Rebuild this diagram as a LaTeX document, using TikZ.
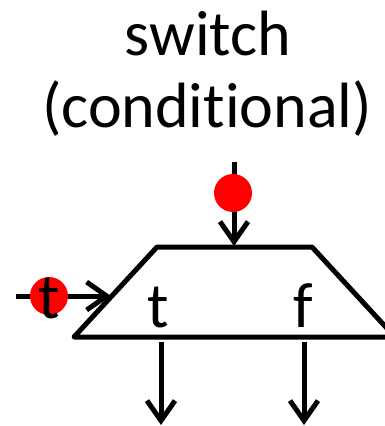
\documentclass[tikz,border=0pt]{standalone}
\usepackage{fontspec}
\setmainfont{Carlito}[Ligatures=NoCommon]
\usetikzlibrary{arrows.meta}
\tikzset{
  wire/.style={line width=5pt,-{Straight Barb[length=20pt,width=28pt,line width=5pt]}},
  token/.style={circle,fill=red,inner sep=0pt,minimum size=38pt},
  lbl/.style={font=\fontsize{64}{64}\selectfont,inner sep=0pt,anchor=base},
}
\begin{document}
\begin{tikzpicture}[x=1pt,y=-1pt]
\useasboundingbox (0,0) rectangle (385,426);
\clip (0,0) rectangle (385,426);
% title
\node[lbl] (head) at (208,55) {switch};
\node[lbl] (sub) at (207,127) {(conditional)};
% switch body
\coordinate (bl) at (74,337); \coordinate (tl) at (157,247);
\coordinate (tr) at (312,247); \coordinate (br) at (395,337);
\draw[line width=5pt,line join=round] (bl)--(tl)--(tr)--(br)--cycle;
\node[lbl] (tout) at (158,327) {t};
\node[lbl] (fout) at (303,327) {f};
% wires
\coordinate (ctl) at (234,162); \coordinate (ctlend) at (234,246);
\coordinate (din) at (16,296); \coordinate (dinend) at (111,296);
\coordinate (tend) at (161,425); \coordinate (fend) at (304,425);
\draw[wire] (ctl)--(ctlend);
\draw[wire] (din)--(dinend);
\draw[wire] (161,342)--(tend);
\draw[wire] (304,342)--(fend);
% tokens
\node[token] (ctok) at (233,193) {};
\node[token] (dtok) at (49,296) {};
\node[lbl] at (49,318) {t};
\end{tikzpicture}
\end{document}
